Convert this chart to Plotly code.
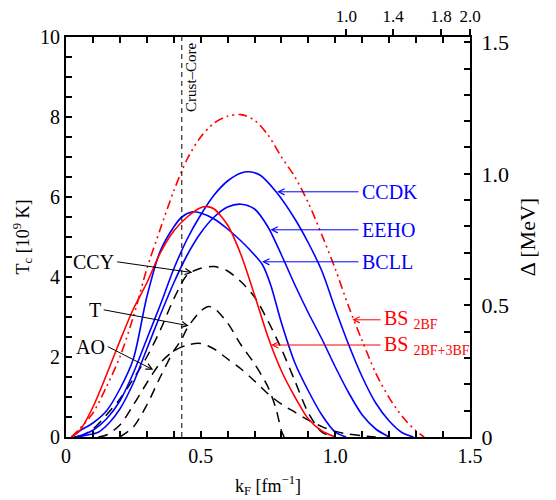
import numpy as np
import plotly.graph_objects as go

# ---------------- data ----------------
kf_bs2 = [0.02, 0.05, 0.10, 0.15, 0.20, 0.25, 0.30, 0.35, 0.40, 0.45, 0.50, 0.55, 0.60, 0.65,
          0.70, 0.75, 0.80, 0.85, 0.90, 0.95, 1.00, 1.05, 1.10, 1.15, 1.20, 1.25, 1.30, 1.33]
tc_bs2 = [0.0, 0.2, 0.6, 1.25, 2.0, 3.0, 4.2, 5.2, 6.15, 6.95, 7.5, 7.85, 8.02, 8.06,
          7.92, 7.55, 7.0, 6.5, 5.85, 5.05, 4.2, 3.25, 2.4, 1.6, 0.98, 0.5, 0.15, 0.0]

kf_bs23 = [0.02, 0.05, 0.10, 0.15, 0.20, 0.25, 0.30, 0.35, 0.40, 0.45, 0.50, 0.525, 0.55,
           0.60, 0.65, 0.70, 0.75, 0.80, 0.85, 0.90, 0.95, 1.00]
tc_bs23 = [0.0, 0.15, 0.75, 1.55, 2.4, 3.2, 3.85, 4.6, 5.15, 5.5, 5.73, 5.76, 5.7,
           5.3, 4.55, 3.55, 2.5, 1.65, 1.0, 0.45, 0.15, 0.0]

kf_ccdk = [0.03, 0.06, 0.10, 0.15, 0.20, 0.25, 0.30, 0.35, 0.40, 0.45, 0.50, 0.55, 0.60, 0.65,
           0.68, 0.72, 0.78, 0.85, 0.90, 0.95, 1.00, 1.05, 1.10, 1.15, 1.20, 1.25, 1.29]
tc_ccdk = [0.0, 0.05, 0.17, 0.45, 0.9, 1.6, 2.45, 3.3, 4.2, 4.95, 5.55, 6.05, 6.4, 6.6,
           6.63, 6.55, 6.13, 5.45, 4.85, 4.15, 3.2, 2.3, 1.5, 0.85, 0.4, 0.1, 0.0]

kf_eeho = [0.04, 0.08, 0.12, 0.16, 0.20, 0.25, 0.30, 0.35, 0.40, 0.45, 0.50, 0.55, 0.60, 0.65,
           0.70, 0.75, 0.80, 0.85, 0.90, 0.95, 1.00, 1.05, 1.10, 1.15, 1.20]
tc_eeho = [0.0, 0.05, 0.12, 0.35, 0.7, 1.35, 2.2, 3.05, 3.85, 4.55, 5.1, 5.5, 5.75, 5.82,
           5.7, 5.25, 4.55, 3.8, 3.1, 2.45, 1.75, 1.1, 0.55, 0.2, 0.0]

kf_bcll = [0.02, 0.05, 0.10, 0.15, 0.20, 0.25, 0.30, 0.35, 0.40, 0.43, 0.47, 0.50, 0.55, 0.60,
           0.65, 0.70, 0.73, 0.76, 0.80, 0.85, 0.90, 0.95, 1.00, 1.04]
tc_bcll = [0.0, 0.15, 0.35, 0.65, 1.2, 1.95, 3.5, 4.65, 5.25, 5.5, 5.63, 5.6, 5.45, 5.2,
           4.9, 4.55, 4.3, 3.8, 2.85, 1.85, 1.15, 0.55, 0.12, 0.0]

kf_ccy = [0.05, 0.10, 0.15, 0.20, 0.25, 0.30, 0.35, 0.40, 0.45, 0.50, 0.55, 0.60, 0.65, 0.70,
          0.75, 0.80, 0.85, 0.90, 0.95, 1.00]
tc_ccy = [0.0, 0.2, 0.55, 0.95, 1.45, 2.0, 2.67, 3.45, 4.05, 4.22, 4.26, 4.15, 3.88, 3.5,
          2.9, 2.2, 1.4, 0.6, 0.12, 0.0]

kf_t = [0.20, 0.25, 0.30, 0.35, 0.40, 0.43, 0.45, 0.50, 0.53, 0.55, 0.60, 0.65, 0.70, 0.75,
        0.78, 0.80, 0.81]
tc_t = [0.0, 0.25, 0.8, 1.5, 2.15, 2.45, 2.72, 3.15, 3.26, 3.22, 2.85, 2.3, 1.83, 1.25,
        0.7, 0.15, 0.0]

kf_ao = [0.12, 0.15, 0.20, 0.25, 0.30, 0.35, 0.40, 0.45, 0.50, 0.55, 0.60, 0.65, 0.70, 0.75,
         0.80, 0.85, 0.90, 0.95, 1.00, 1.05, 1.10, 1.15]
tc_ao = [0.0, 0.05, 0.3, 0.8, 1.35, 1.85, 2.15, 2.3, 2.34, 2.2, 1.95, 1.7, 1.4, 1.08,
         0.82, 0.62, 0.42, 0.26, 0.14, 0.07, 0.03, 0.0]

crust_core_kf = 0.43

x_tick_vals = [0, 0.5, 1.0, 1.5]
x_tick_text = ["0", "0.5", "1.0", "1.5"]
y_tick_vals = [0, 2, 4, 6, 8, 10]
d_tick_vals = [0, 0.5, 1.0, 1.5]
d_tick_text = ["0", "0.5", "1.0", "1.5"]
top_tick_pos = [1.041, 1.215, 1.393, 1.5]
top_tick_text = ["1.0", "1.4", "1.8", "2.0"]

# conversion Tc [1e9 K] -> Delta [MeV]  (Tc = 0.567 Delta / kB)
TC_MAX = 10.0
DELTA_MAX = TC_MAX / (0.567 * 11.605)

FONT = "Liberation Serif"
BLUE = "#0000ff"
RED = "#ff0000"

fig = go.Figure()

def add(kf, tc, color, dash="solid", width=1.6):
    fig.add_trace(go.Scatter(x=kf, y=tc, mode="lines",
                             line=dict(color=color, dash=dash, width=width,
                                       shape="spline", smoothing=0.8),
                             hoverinfo="skip", showlegend=False))

add(kf_ao, tc_ao, "black", dash="10px,7px", width=1.5)
add(kf_t, tc_t, "black", dash="10px,7px", width=1.5)
add(kf_ccy, tc_ccy, "black", dash="10px,7px", width=1.5)
add(kf_bcll, tc_bcll, BLUE)
add(kf_eeho, tc_eeho, BLUE)
add(kf_ccdk, tc_ccdk, BLUE)
add(kf_bs23, tc_bs23, RED)
add(kf_bs2, tc_bs2, RED, dash="9px,4px,2px,4px,2px,4px")

# crust-core boundary
fig.add_trace(go.Scatter(x=[crust_core_kf, crust_core_kf], y=[0, TC_MAX], mode="lines",
                         line=dict(color="black", dash="5px,4px", width=1),
                         hoverinfo="skip", showlegend=False))

# dummy trace for secondary axes
fig.add_trace(go.Scatter(x=[0], y=[0], xaxis="x2", yaxis="y2", mode="markers",
                         marker=dict(opacity=0), hoverinfo="skip", showlegend=False))

tick_common = dict(ticks="inside", ticklen=6, tickwidth=1.5, tickcolor="black",
                   showgrid=False, zeroline=False, showline=True, linecolor="black",
                   linewidth=2, automargin=False)

# the page body adds an 8px offset; the figure is sized so it fits the window
fig.update_layout(
    width=548, height=492,
    margin=dict(l=58, r=86, t=29, b=63),
    plot_bgcolor="white", paper_bgcolor="white",
    font=dict(family=FONT, size=18, color="black"),
    showlegend=False,
    xaxis=dict(range=[0, 1.5], tickvals=x_tick_vals, ticktext=x_tick_text,
               mirror="ticks",
               minor=dict(dtick=0.1, tick0=0, ticks="inside", ticklen=6, tickwidth=1.5,
                          tickcolor="black"),
               title=dict(text="k<sub>F</sub> [fm<sup>\u22121</sup>]", standoff=13,
                          font=dict(size=18)),
               tickfont=dict(size=20),
               **tick_common),
    xaxis2=dict(range=[0, 1.5], overlaying="x", side="top", tickvals=top_tick_pos,
                ticktext=top_tick_text, ticks="outside", ticklen=7, tickwidth=1.5,
                tickcolor="black", showline=False, showgrid=False, zeroline=False,
                tickfont=dict(size=17), ticklabelstandoff=0, automargin=False),
    yaxis=dict(range=[0, TC_MAX], tickvals=y_tick_vals,
               minor=dict(dtick=0.5, tick0=0, ticks="inside", ticklen=6, tickwidth=1.5,
                          tickcolor="black"),
               title=dict(text="T<sub>c</sub> [10<sup>9</sup> K]", standoff=6,
                          font=dict(size=18)),
               tickfont=dict(size=20),
               **tick_common),
    yaxis2=dict(range=[0, DELTA_MAX], overlaying="y", side="right",
                tickvals=d_tick_vals, ticktext=d_tick_text,
                minor=dict(dtick=0.1, tick0=0, ticks="inside", ticklen=6, tickwidth=1.5,
                           tickcolor="black"),
                title=dict(text="\u0394 [MeV]", standoff=12, font=dict(size=22)),
                tickfont=dict(size=22), ticklabelstandoff=5,
                **tick_common),
)

# Crust-Core label
fig.add_annotation(x=crust_core_kf + 0.033, y=9.92, text="Crust\u2013Core", textangle=-90,
                   showarrow=False, xanchor="center", yanchor="top",
                   font=dict(size=15, family=FONT))

def label(text, tip, tail, color, anchor):
    fig.add_annotation(x=tip[0], y=tip[1], ax=tail[0], ay=tail[1], axref="x", ayref="y",
                       xref="x", yref="y", text=text, showarrow=True, arrowhead=5,
                       arrowsize=1.2, arrowwidth=1, arrowcolor=color, xanchor=anchor,
                       yanchor="middle", font=dict(size=20, color=color, family=FONT),
                       borderpad=2, standoff=0)

label("CCDK", (0.784, 6.13), (1.086, 6.13), BLUE, "left")
label("EEHO", (0.759, 5.18), (1.086, 5.18), BLUE, "left")
label("BCLL", (0.728, 4.38), (1.086, 4.38), BLUE, "left")
label("BS <sub>2BF</sub>", (1.063, 2.93), (1.168, 2.93), RED, "left")
label("BS <sub>2BF+3BF</sub>", (0.761, 2.30), (1.168, 2.30), RED, "left")
label("CCY", (0.469, 4.11), (0.19, 4.38), "black", "right")
label("T", (0.456, 2.78), (0.14, 3.18), "black", "right")
label("AO", (0.324, 1.68), (0.155, 2.26), "black", "right")

fig.write_html("out.html")
